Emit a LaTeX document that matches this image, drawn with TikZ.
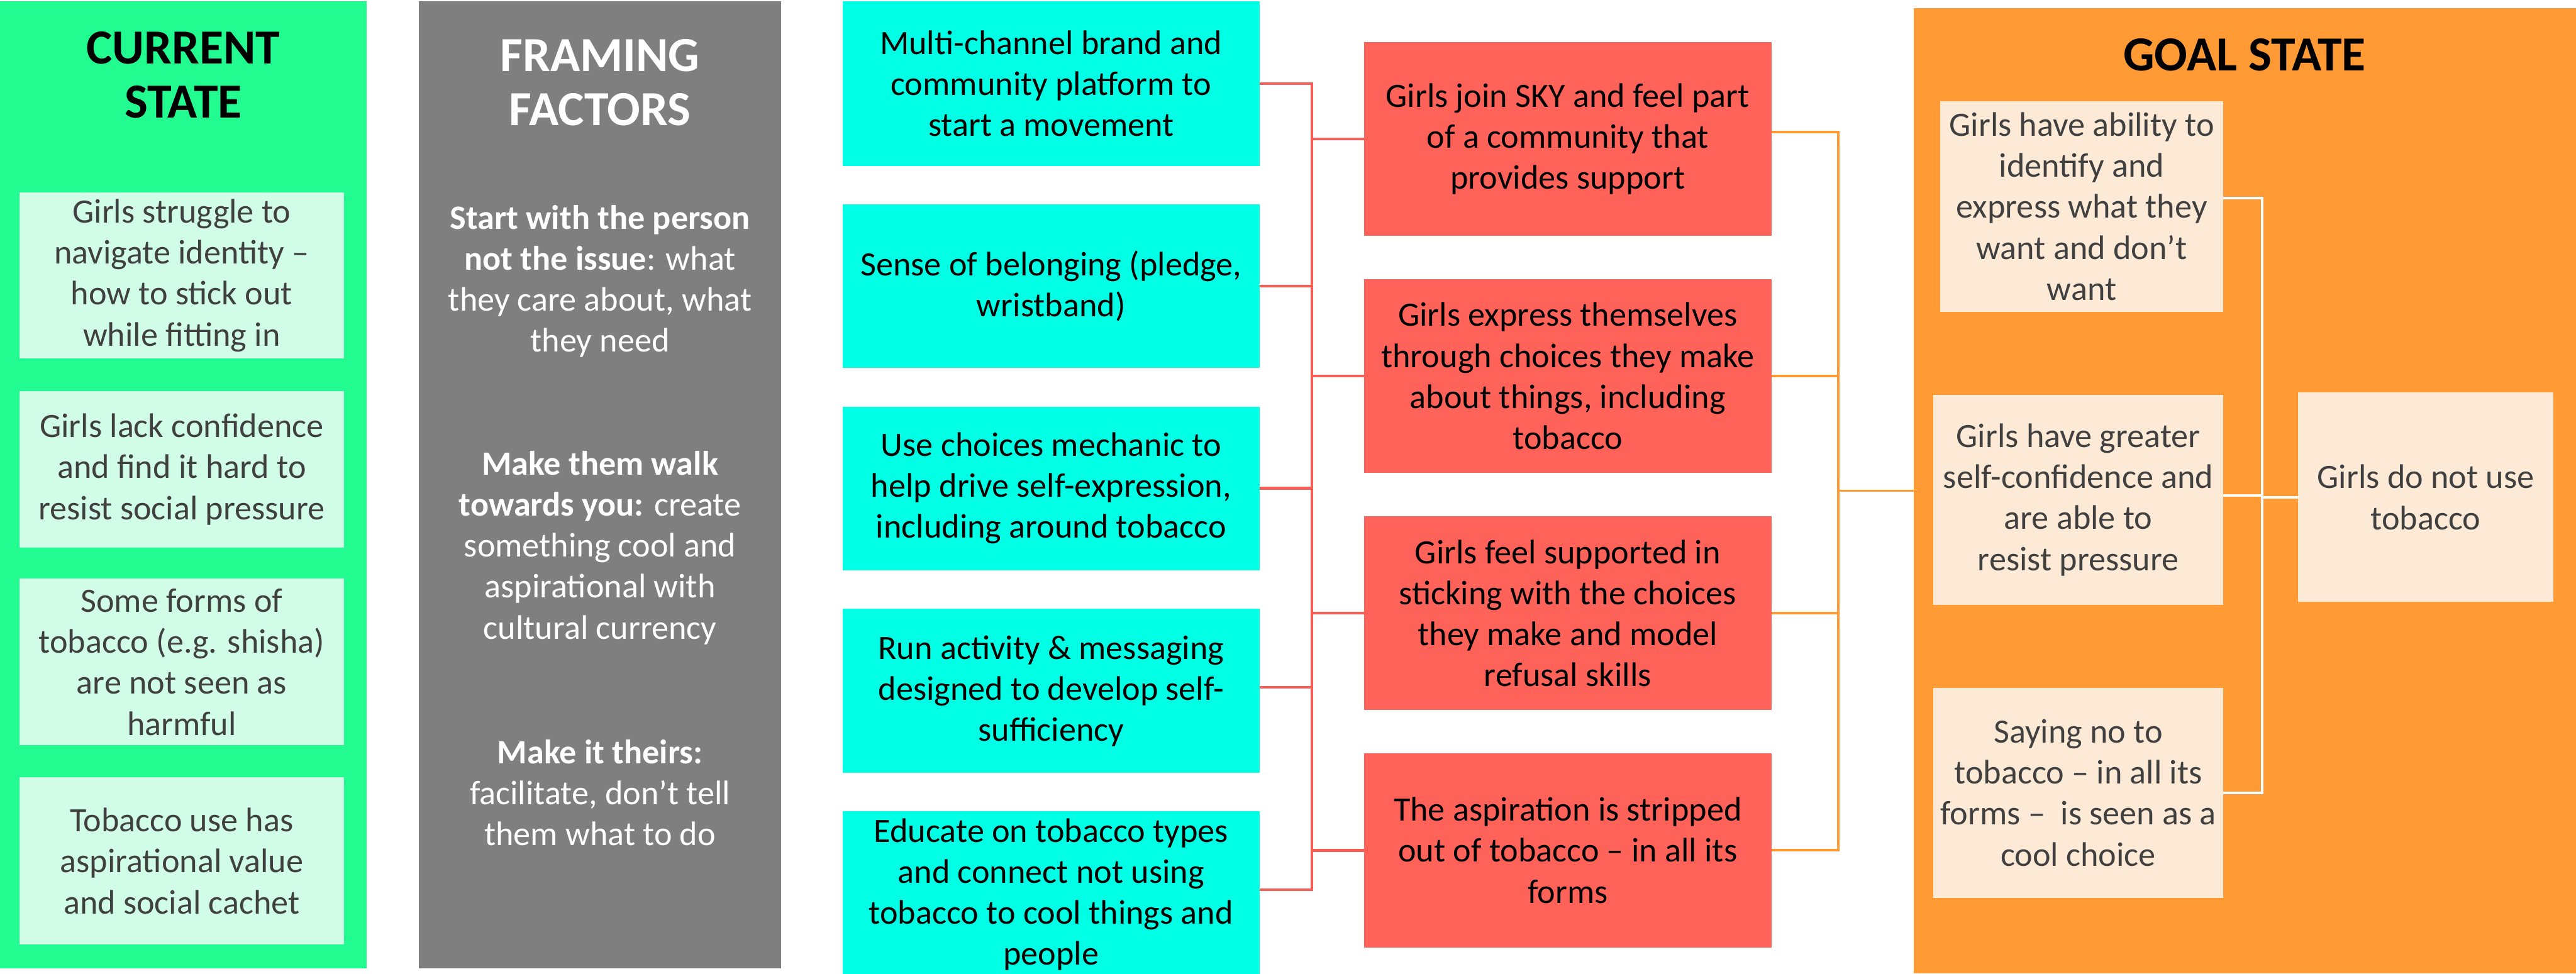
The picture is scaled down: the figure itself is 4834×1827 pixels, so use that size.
\documentclass[tikz,border=0pt]{standalone}
\usepackage{fontspec}
\setmainfont{Carlito}
\definecolor{curgreen}{RGB}{34,251,143}
\definecolor{mint}{RGB}{209,252,232}
\definecolor{framegray}{RGB}{127,127,127}
\definecolor{aqua}{RGB}{0,255,228}
\definecolor{salmon}{RGB}{255,98,89}
\definecolor{redline}{RGB}{247,94,86}
\definecolor{goalorange}{RGB}{255,154,53}
\definecolor{cream}{RGB}{253,234,214}
\definecolor{darktext}{RGB}{64,64,64}
\begin{document}
\begin{tikzpicture}[x=0.25pt,y=-0.25pt,
  every node/.style={inner sep=0pt, outer sep=0pt, anchor=center},
  txt/.style={align=center, font=\fontsize{16}{19.25}\selectfont},
  ttl/.style={align=center, font=\fontsize{23}{25.5}\selectfont\bfseries},
  panel/.style={rectangle, minimum width=#1},
  mintbox/.style={rectangle, txt, fill=mint, text=darktext, minimum width=152pt},
  aquabox/.style={rectangle, txt, fill=aqua, text=black, minimum width=195.75pt},
  redbox/.style={rectangle, txt, fill=salmon, text=black, minimum width=191pt, minimum height=91pt},
  creambox/.style={rectangle, txt, fill=cream, text=darktext},
  redconn/.style={draw=redline, line width=1.3pt},
  orconn/.style={draw=goalorange, line width=1.1pt},
  whconn/.style={draw=white, line width=1.3pt}
]
\useasboundingbox (0,0) rectangle (4834,1827);
\fill[white] (0,0) rectangle (4834,1827);

% panels
\node[panel=172pt, minimum height=454pt, fill=curgreen] (curpanel) at (344,910) {};
\node[panel=170pt, minimum height=454pt, fill=framegray] (framepanel) at (1126,910) {};
\node[panel=310.75pt, minimum height=453pt, fill=goalorange] (goalpanel) at (4212.5,921) {};

% titles
\node[ttl, text=black] (curtitle) at (344,141) {CURRENT\\STATE};
\node[ttl, text=white] (frametitle) at (1126,155) {FRAMING\\FACTORS};
\node[ttl, text=black] (goaltitle) at (4212,103) {GOAL STATE};

% current state boxes
\node[mintbox, minimum height=78pt] (b1) at (341,517) {Girls struggle to\\navigate identity –\\how to stick out\\while fitting in};
\node[mintbox, minimum height=73.5pt] (b2) at (341,881) {Girls lack confidence\\and find it hard to\\resist social pressure};
\node[mintbox, minimum height=78.25pt] (b3) at (341,1242.5) {Some forms of\\tobacco (e.g. shisha)\\are not seen as\\harmful};
\node[mintbox, minimum height=78.5pt] (b4) at (341,1616) {Tobacco use has\\aspirational value\\and social cachet};

% framing factors
\node[txt, text=white] (f1) at (1126,528) {\textbf{Start with the person}\\\textbf{not the issue}: what\\they care about, what\\they need};
\node[txt, text=white] (f2) at (1126,1028) {\textbf{Make them walk}\\\textbf{towards you:} create\\something cool and\\aspirational with\\cultural currency};
\node[txt, text=white] (f3) at (1126,1488) {\textbf{Make it theirs:}\\facilitate, don’t tell\\them what to do};

% activities
\node[aquabox, minimum height=77.5pt] (c1) at (1972.5,157) {Multi-channel brand and\\community platform to\\start a movement};
\node[aquabox, minimum height=76.5pt] (c2) at (1972.5,537) {Sense of belonging (pledge,\\wristband)};
\node[aquabox, minimum height=76.75pt] (c3) at (1972.5,916.5) {Use choices mechanic to\\help drive self-expression,\\including around tobacco};
\node[aquabox, minimum height=77pt] (c4) at (1972.5,1297) {Run activity \& messaging\\designed to develop self-\\sufficiency};
\node[aquabox, minimum height=78pt] (c5) at (1972.5,1679) {Educate on tobacco types\\and connect not using\\tobacco to cool things and\\people};

% outcomes
\node[redbox] (r1) at (2942,261) {Girls join SKY and feel part\\of a community that\\provides support};
\node[redbox] (r2) at (2942,706) {Girls express themselves\\through choices they make\\about things, including\\tobacco};
\node[redbox] (r3) at (2942,1151) {Girls feel supported in\\sticking with the choices\\they make and model\\refusal skills};
\node[redbox] (r4) at (2942,1596) {The aspiration is stripped\\out of tobacco – in all its\\forms};

% goal boxes
\node[creambox, minimum width=132.75pt, minimum height=98.75pt] (g1) at (3906.5,387.5) {Girls have ability to\\identify and\\express what they\\want and don’t\\want};
\node[creambox, minimum width=136pt, minimum height=98.5pt] (g2) at (3900,938) {Girls have greater\\self-confidence and\\are able to\\resist pressure};
\node[creambox, minimum width=136pt, minimum height=98.5pt] (g3) at (3900,1488) {Saying no to\\tobacco – in all its\\forms –\ \ is seen as a\\cool choice};
\node[creambox, minimum width=120pt, minimum height=98.25pt] (g4) at (4552,933.5) {Girls do not use\\tobacco};

% bus coordinates
\coordinate (rbus) at (2462,0);
\coordinate (obus) at (3450,0);
\coordinate (wbus) at (4245,0);

% connection points
\coordinate (c1p) at (c1.east);
\coordinate (c2p) at (c2.east);
\coordinate (c3p) at (c3.east);
\coordinate (c4p) at ([yshift=1.75pt]c4.east);
\coordinate (c5p) at ([yshift=2.25pt]c5.east);
\coordinate (r1o) at ([yshift=3.25pt]r1.east);
\coordinate (g1p) at ([yshift=3.9pt]g1.east);
\coordinate (g2p) at ([yshift=2pt]g2.east);

% red connectors
\foreach \n in {c1p,c2p,c3p,c4p,c5p} {
  \draw[redconn] (\n) -- (\n -| rbus);
}
\draw[redconn, line cap=rect] (c1p -| rbus) -- (c5p -| rbus);
\foreach \n in {r1,r2,r3,r4} {
  \draw[redconn] (\n.west -| rbus) -- (\n.west);
}

% orange connectors
\draw[orconn] (r1o) -- (r1o -| obus);
\foreach \n in {r2,r3,r4} {
  \draw[orconn] (\n.east) -- (\n.east -| obus);
}
\draw[orconn, line cap=rect] (r1o -| obus) -- (r4.east -| obus);
\draw[orconn] (goalpanel.west -| obus) -- (goalpanel.west);

% white connectors
\draw[whconn] (g1p) -- (g1p -| wbus);
\draw[whconn] (g2p) -- (g2p -| wbus);
\draw[whconn] (g3.east) -- (g3.east -| wbus);
\draw[whconn, line cap=rect] (g1p -| wbus) -- (g3.east -| wbus);
\draw[whconn] (g4.west -| wbus) -- (g4.west);
\end{tikzpicture}
\end{document}
